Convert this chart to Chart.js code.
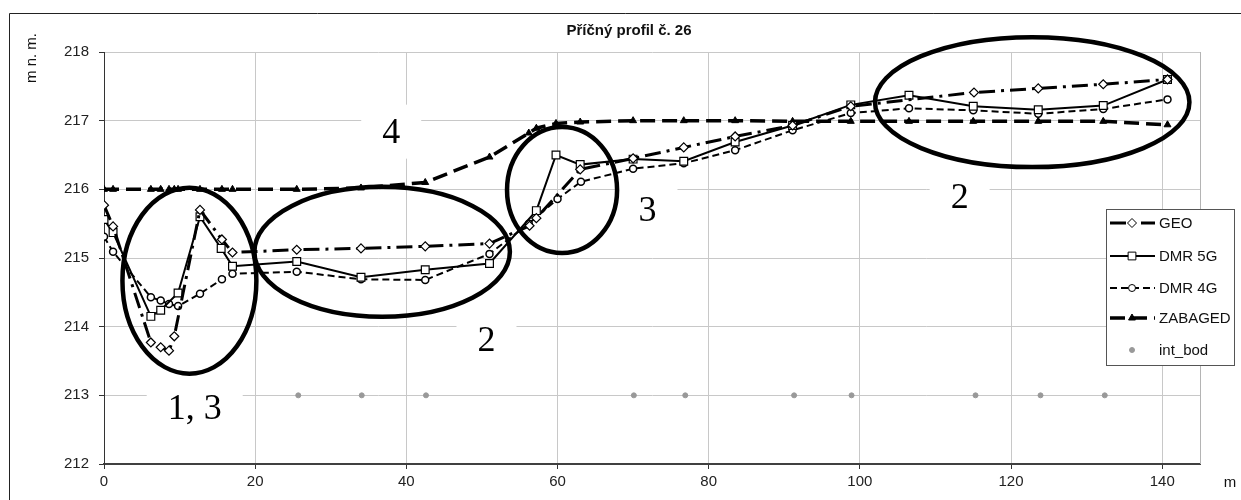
<!DOCTYPE html>
<html>
<head>
<meta charset="utf-8">
<script src="https://cdn.jsdelivr.net/npm/chart.js@4.4.1/dist/chart.umd.min.js"></script>
<style>
html, body { margin: 0; padding: 0; background: #fff; }
#wrap { position: relative; width: 1241px; height: 500px; }
</style>
</head>
<body>
<div id="wrap"><canvas id="profil" width="1241" height="500"></canvas></div>
<script>
// Stations [m] and heights [m n. m.] read from the profile
var geoX = [0, 1.2, 6.2, 7.5, 8.6, 9.3, 12.7, 15.6, 17.0, 25.5, 34.0, 42.5, 51.0, 56.3, 57.2, 63.0, 70.0, 76.7, 83.5, 91.1, 98.8, 115.1, 123.6, 132.2, 140.7];
var geoY = [215.77, 215.46, 213.77, 213.70, 213.65, 213.86, 215.70, 215.27, 215.08, 215.12, 215.14, 215.17, 215.21, 215.47, 215.58, 216.29, 216.45, 216.61, 216.77, 216.93, 217.21, 217.41, 217.47, 217.53, 217.60];

var dmr5X = [0, 1.2, 6.2, 7.5, 9.8, 12.7, 15.5, 17.0, 25.5, 34.0, 42.5, 51.0, 57.2, 59.8, 63.0, 70.0, 76.7, 83.5, 91.1, 98.8, 106.5, 115.0, 123.6, 132.2, 140.7];
var dmr5Y = [215.56, 215.37, 214.15, 214.24, 214.49, 215.60, 215.14, 214.88, 214.95, 214.72, 214.83, 214.92, 215.69, 216.50, 216.36, 216.44, 216.41, 216.69, 216.93, 217.23, 217.37, 217.21, 217.16, 217.22, 217.60];

var dmr4X = [0, 1.2, 6.2, 7.5, 8.6, 9.8, 12.7, 15.6, 17.0, 25.5, 34.0, 42.5, 51.0, 56.2, 60.0, 63.1, 70.0, 76.7, 83.5, 91.1, 98.8, 106.5, 115.0, 123.6, 132.2, 140.7];
var dmr4Y = [215.31, 215.09, 214.43, 214.38, 214.33, 214.30, 214.48, 214.69, 214.77, 214.80, 214.69, 214.68, 215.06, 215.50, 215.86, 216.11, 216.30, 216.38, 216.57, 216.86, 217.11, 217.18, 217.15, 217.10, 217.17, 217.31];

var zabX = [0, 1.2, 6.2, 7.5, 8.6, 9.3, 9.8, 12.7, 15.6, 17.0, 25.5, 34.0, 42.5, 51.0, 56.2, 57.2, 59.8, 63.0, 70.0, 76.7, 83.5, 91.1, 98.8, 106.5, 115.0, 123.6, 132.2, 140.7];
var zabY = [216.0, 216.0, 216.0, 216.0, 216.0, 216.0, 216.0, 216.0, 216.0, 216.0, 216.0, 216.02, 216.10, 216.47, 216.82, 216.89, 216.96, 216.98, 217.0, 217.0, 217.0, 216.99, 216.99, 216.99, 216.99, 216.99, 216.99, 216.94];

var intX = [25.7, 34.1, 42.6, 70.1, 76.9, 91.3, 98.9, 115.3, 123.9, 132.4];
var intY = [213, 213, 213, 213, 213, 213, 213, 213, 213, 213];

var seriesNames = ['GEO', 'DMR 5G', 'DMR 4G', 'ZABAGED', 'int_bod'];
var xTicks = [0, 20, 40, 60, 80, 100, 120, 140];

// hand drawn notes over the chart (in axis units)
var noteText = ['4', '2', '3', '2', '1, 3'];
var noteX = [38.0, 50.6, 71.9, 113.2, 12.0];
var noteY = [216.84, 213.81, 215.70, 215.89, 212.82];
var ringX = [11.3, 36.8, 60.6, 122.8];
var ringY = [214.67, 215.09, 215.99, 217.27];
var ringRX = [8.86, 16.9, 7.28, 20.8];
var ringRY = [1.354, 0.946, 0.917, 0.946];

function pts(xs, ys) {
	return xs.map(function (x, i) { return {x: x, y: ys[i]}; });
}

var sans = '"Liberation Sans", Arial, sans-serif';
var serif = '"Liberation Serif", "Times New Roman", serif';

//Draws the notes, legend, titles and frame
var extras = {
	id: 'extras',
	beforeDatasetsDraw: function (chart) {
		var ctx = chart.ctx, sx = chart.scales.x, sy = chart.scales.y;
		ctx.save();
		ctx.font = '36px ' + serif;
		ctx.fillStyle = '#fff';
		for (var i = 0; i < noteText.length; i++) {
			var w = ctx.measureText(noteText[i]).width + 42;
			ctx.fillRect(sx.getPixelForValue(noteX[i]) - w / 2, sy.getPixelForValue(noteY[i]) - 27, w, 54);
		}
		ctx.restore();
	},
	afterDraw: function (chart) {
		var ctx = chart.ctx, sx = chart.scales.x, sy = chart.scales.y, a = chart.chartArea;
		ctx.save();

		//plot area right edge
		ctx.strokeStyle = '#b4b4b4';
		ctx.lineWidth = 1;
		ctx.beginPath();
		ctx.moveTo(Math.round(a.right) + 0.5, a.top);
		ctx.lineTo(Math.round(a.right) + 0.5, a.bottom);
		ctx.stroke();

		//ellipses
		ctx.strokeStyle = '#000';
		ctx.lineWidth = 4.5;
		for (var i = 0; i < ringX.length; i++) {
			var cx = sx.getPixelForValue(ringX[i]);
			var cy = sy.getPixelForValue(ringY[i]);
			var rx = sx.getPixelForValue(ringX[i] + ringRX[i]) - cx;
			var ry = cy - sy.getPixelForValue(ringY[i] + ringRY[i]);
			ctx.beginPath();
			ctx.ellipse(cx, cy, rx, ry, 0, 0, 2 * Math.PI);
			ctx.stroke();
		}

		//note numbers
		ctx.fillStyle = '#000';
		ctx.font = '36px ' + serif;
		ctx.textAlign = 'center';
		ctx.textBaseline = 'middle';
		for (var j = 0; j < noteText.length; j++) {
			ctx.fillText(noteText[j], sx.getPixelForValue(noteX[j]), sy.getPixelForValue(noteY[j]) + 2);
		}

		//title and axis titles
		ctx.fillStyle = '#111';
		ctx.font = 'bold 15px ' + sans;
		ctx.fillText('Příčný profil č. 26', 629, 31);
		ctx.font = '15px ' + sans;
		ctx.fillText('m', 1230, 483);
		ctx.save();
		ctx.translate(32, 58);
		ctx.rotate(-Math.PI / 2);
		ctx.fillText('m n. m.', 0, 0);
		ctx.restore();

		//legend
		var lx = 1106.5, ly = 209.5, lw = 128, lh = 156;
		ctx.fillStyle = '#fff';
		ctx.fillRect(lx, ly, lw, lh);
		ctx.strokeStyle = '#555';
		ctx.lineWidth = 1;
		ctx.strokeRect(lx, ly, lw, lh);
		var rows = [223, 256, 288, 318, 350];
		chart.data.datasets.forEach(function (ds, k) {
			var y = rows[k];
			if (ds.showLine) {
				ctx.save();
				ctx.strokeStyle = ds.borderColor;
				ctx.lineWidth = ds.borderWidth;
				ctx.setLineDash(ds.borderDash || []);
				ctx.beginPath();
				ctx.moveTo(1110, y);
				ctx.lineTo(1155, y);
				ctx.stroke();
				ctx.restore();
			}
			ctx.save();
			ctx.fillStyle = ds.pointBackgroundColor;
			ctx.strokeStyle = ds.pointBorderColor;
			Chart.helpers.drawPoint(ctx, {
				pointStyle: ds.pointStyle,
				radius: ds.pointRadius,
				rotation: 0,
				borderWidth: ds.pointBorderWidth
			}, 1132, y);
			ctx.restore();
			ctx.fillStyle = '#111';
			ctx.font = '15px ' + sans;
			ctx.textAlign = 'left';
			ctx.fillText(seriesNames[k], 1159, y + 1);
		});

		//outer frame
		ctx.strokeStyle = '#222';
		ctx.lineWidth = 1;
		ctx.beginPath();
		ctx.moveTo(9.5, 500);
		ctx.lineTo(9.5, 13.5);
		ctx.lineTo(1241, 13.5);
		ctx.stroke();
		ctx.restore();
	}
};

var ctx = document.getElementById('profil');
var profileChart = new Chart(ctx, {
	type: 'scatter',
	data: {
		datasets: [{
			label: seriesNames[0],
			data: pts(geoX, geoY),
			showLine: true,
			borderColor: '#000',
			borderWidth: 3,
			borderDash: [16, 6, 3, 6],
			pointStyle: 'rectRot',
			pointRadius: 4.5,
			pointBackgroundColor: '#fff',
			pointBorderColor: '#000',
			pointBorderWidth: 1.2
		}, {
			label: seriesNames[1],
			data: pts(dmr5X, dmr5Y),
			showLine: true,
			borderColor: '#000',
			borderWidth: 2,
			borderDash: [],
			pointStyle: 'rect',
			pointRadius: 5.5,
			pointBackgroundColor: '#fff',
			pointBorderColor: '#000',
			pointBorderWidth: 1.2
		}, {
			label: seriesNames[2],
			data: pts(dmr4X, dmr4Y),
			showLine: true,
			borderColor: '#000',
			borderWidth: 2,
			borderDash: [7, 4],
			pointStyle: 'circle',
			pointRadius: 3.5,
			pointBackgroundColor: '#fff',
			pointBorderColor: '#000',
			pointBorderWidth: 1.5
		}, {
			label: seriesNames[3],
			data: pts(zabX, zabY),
			showLine: true,
			borderColor: '#000',
			borderWidth: 3.5,
			borderDash: [15, 7],
			pointStyle: 'triangle',
			pointRadius: 4,
			pointBackgroundColor: '#000',
			pointBorderColor: '#000',
			pointBorderWidth: 1
		}, {
			label: seriesNames[4],
			data: pts(intX, intY),
			showLine: false,
			borderColor: '#999',
			pointStyle: 'circle',
			pointRadius: 2.5,
			pointBackgroundColor: '#999',
			pointBorderColor: '#999',
			pointBorderWidth: 1
		}]
	},
	options: {
		responsive: false,
		animation: false,
		events: [],
		layout: {padding: {left: 0, right: 41, top: 52, bottom: 0}},
		plugins: {
			legend: {display: false},
			tooltip: {enabled: false}
		},
		scales: {
			x: {
				type: 'linear',
				min: 0,
				max: 145,
				ticks: {stepSize: 20, color: '#222', padding: 4, font: {family: sans, size: 15}},
				grid: {color: '#c8c8c8', tickColor: '#333', tickLength: 5},
				border: {color: '#404040', width: 2},
				afterBuildTicks: function (scale) {
					scale.ticks = xTicks.map(function (v) { return {value: v}; });
				},
				afterFit: function (scale) { scale.height = 36; }
			},
			y: {
				min: 212,
				max: 218,
				ticks: {stepSize: 1, color: '#222', padding: 10, font: {family: sans, size: 15}},
				grid: {color: '#c8c8c8', tickColor: '#333', tickLength: 5},
				border: {color: '#333', width: 1},
				afterFit: function (scale) { scale.width = 104; }
			}
		}
	},
	plugins: [extras]
});
</script>
</body>
</html>
